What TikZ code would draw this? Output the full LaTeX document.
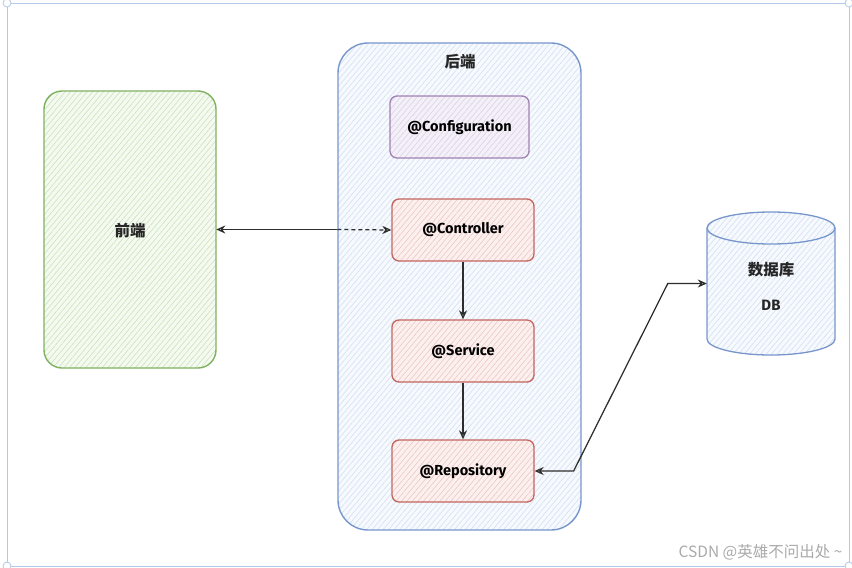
\documentclass[tikz,border=0pt]{standalone}
\usepackage{fontspec}
\setmainfont{Fira Sans}
\newfontfamily\cjk{Noto Sans CJK SC}
\usetikzlibrary{arrows.meta,patterns.meta}

\definecolor{greenline}{RGB}{126,178,96}
\definecolor{greenfill}{RGB}{244,250,240}
\definecolor{greenhatch}{RGB}{200,225,186}
\definecolor{blueline}{RGB}{120,150,205}
\definecolor{bluefill}{RGB}{246,249,253}
\definecolor{bluehatch}{RGB}{210,223,240}
\definecolor{purpleline}{RGB}{160,130,180}
\definecolor{purplefill}{RGB}{244,240,248}
\definecolor{purplehatch}{RGB}{218,206,230}
\definecolor{redline}{RGB}{196,100,95}
\definecolor{redfill}{RGB}{252,240,238}
\definecolor{redhatch}{RGB}{236,196,192}
\definecolor{arrowc}{RGB}{45,45,45}
\definecolor{framec}{RGB}{178,200,232}
\definecolor{markc}{RGB}{170,170,170}

\tikzset{
  hatched/.style 2 args={preaction={fill=#1},
    pattern={Lines[angle=50,distance=4.2pt,line width=0.55pt]},pattern color=#2},
  box/.style={draw, line width=1.3pt, rounded corners=7pt, inner sep=0pt,
    minimum width=142pt, minimum height=62pt, font=\bfseries\fontsize{14.5}{16}\selectfont},
  redbox/.style={box, draw=redline, hatched={redfill}{redhatch}},
  conn/.style={draw=arrowc, line width=1.25pt, >={Stealth[open,length=9pt,width=8pt]}},
  zh/.style={font=\cjk\bfseries\fontsize{15.5}{17}\selectfont, text=black!85}
}

\begin{document}
\begin{tikzpicture}[x=1pt,y=-1pt]
\useasboundingbox (0,0) rectangle (852,568);
\fill[white] (0,0) rectangle (852,568);

% selection frame around the canvas
\draw[framec, line width=0.8pt] (7,3) rectangle (849,566);
\foreach \p in {(7,3),(849,3),(7,566),(849,566)}
  \draw[framec, line width=0.8pt, fill=white] \p circle (4);

% frontend
\node[draw=greenline, line width=1.4pt, rounded corners=18pt,
  hatched={greenfill}{greenhatch}, minimum width=172pt, minimum height=277pt,
  inner sep=0pt] (fe) at (130,229.5) {};
\node[zh] at (130,231) {前端};

% backend container
\node[draw=blueline, line width=1.4pt, rounded corners=30pt,
  hatched={bluefill}{bluehatch}, minimum width=243pt, minimum height=487pt,
  inner sep=0pt] (be) at (459.5,286.5) {};
\node[zh] at (460,62) {后端};

% annotated classes
\node[box, draw=purpleline, hatched={purplefill}{purplehatch},
  minimum width=139pt] (cfg) at (459.5,127) {@Configuration};
\node[redbox] (ctl) at (463,230) {@Controller};
\node[redbox] (svc) at (463,351) {@Service};
\node[redbox] (rep) at (463,471) {@Repository};

% database cylinder
\node[minimum width=128pt, minimum height=143pt, inner sep=0pt] (db) at (771,283.5) {};
\filldraw[draw=blueline, line width=1.3pt, hatched={bluefill}{bluehatch}]
  (707,228) -- (707,339) arc[start angle=180,end angle=360,x radius=64,y radius=-16]
  -- (835,228) arc[start angle=0,end angle=180,x radius=64,y radius=-16] -- cycle;
\draw[blueline, line width=1.3pt] (707,228) arc[start angle=180,end angle=360,x radius=64,y radius=-16];
\node[zh] at (771,270) {数据库};
\node[font=\bfseries\fontsize{15}{17}\selectfont, text=black!85] at (771,305) {DB};

% connectors
\coordinate (mid) at (be.west |- fe.east);
\draw[conn, <-] (fe.east) -- (mid);
\draw[conn, dash pattern=on 4pt off 3pt, ->] (mid) -- (ctl.west);
\draw[conn, ->] (ctl.south) -- (svc.north);
\draw[conn, ->] (svc.south) -- (rep.north);
\draw[conn, <->] (rep.east) -- ++(39,0) -- ([xshift=-39pt]db.west) -- (db.west);

% watermark
\node[font=\cjk\fontsize{15.5}{17}\selectfont, text=markc, anchor=east] at (846,552) {CSDN @英雄不问出处 \textasciitilde};
\end{tikzpicture}
\end{document}
